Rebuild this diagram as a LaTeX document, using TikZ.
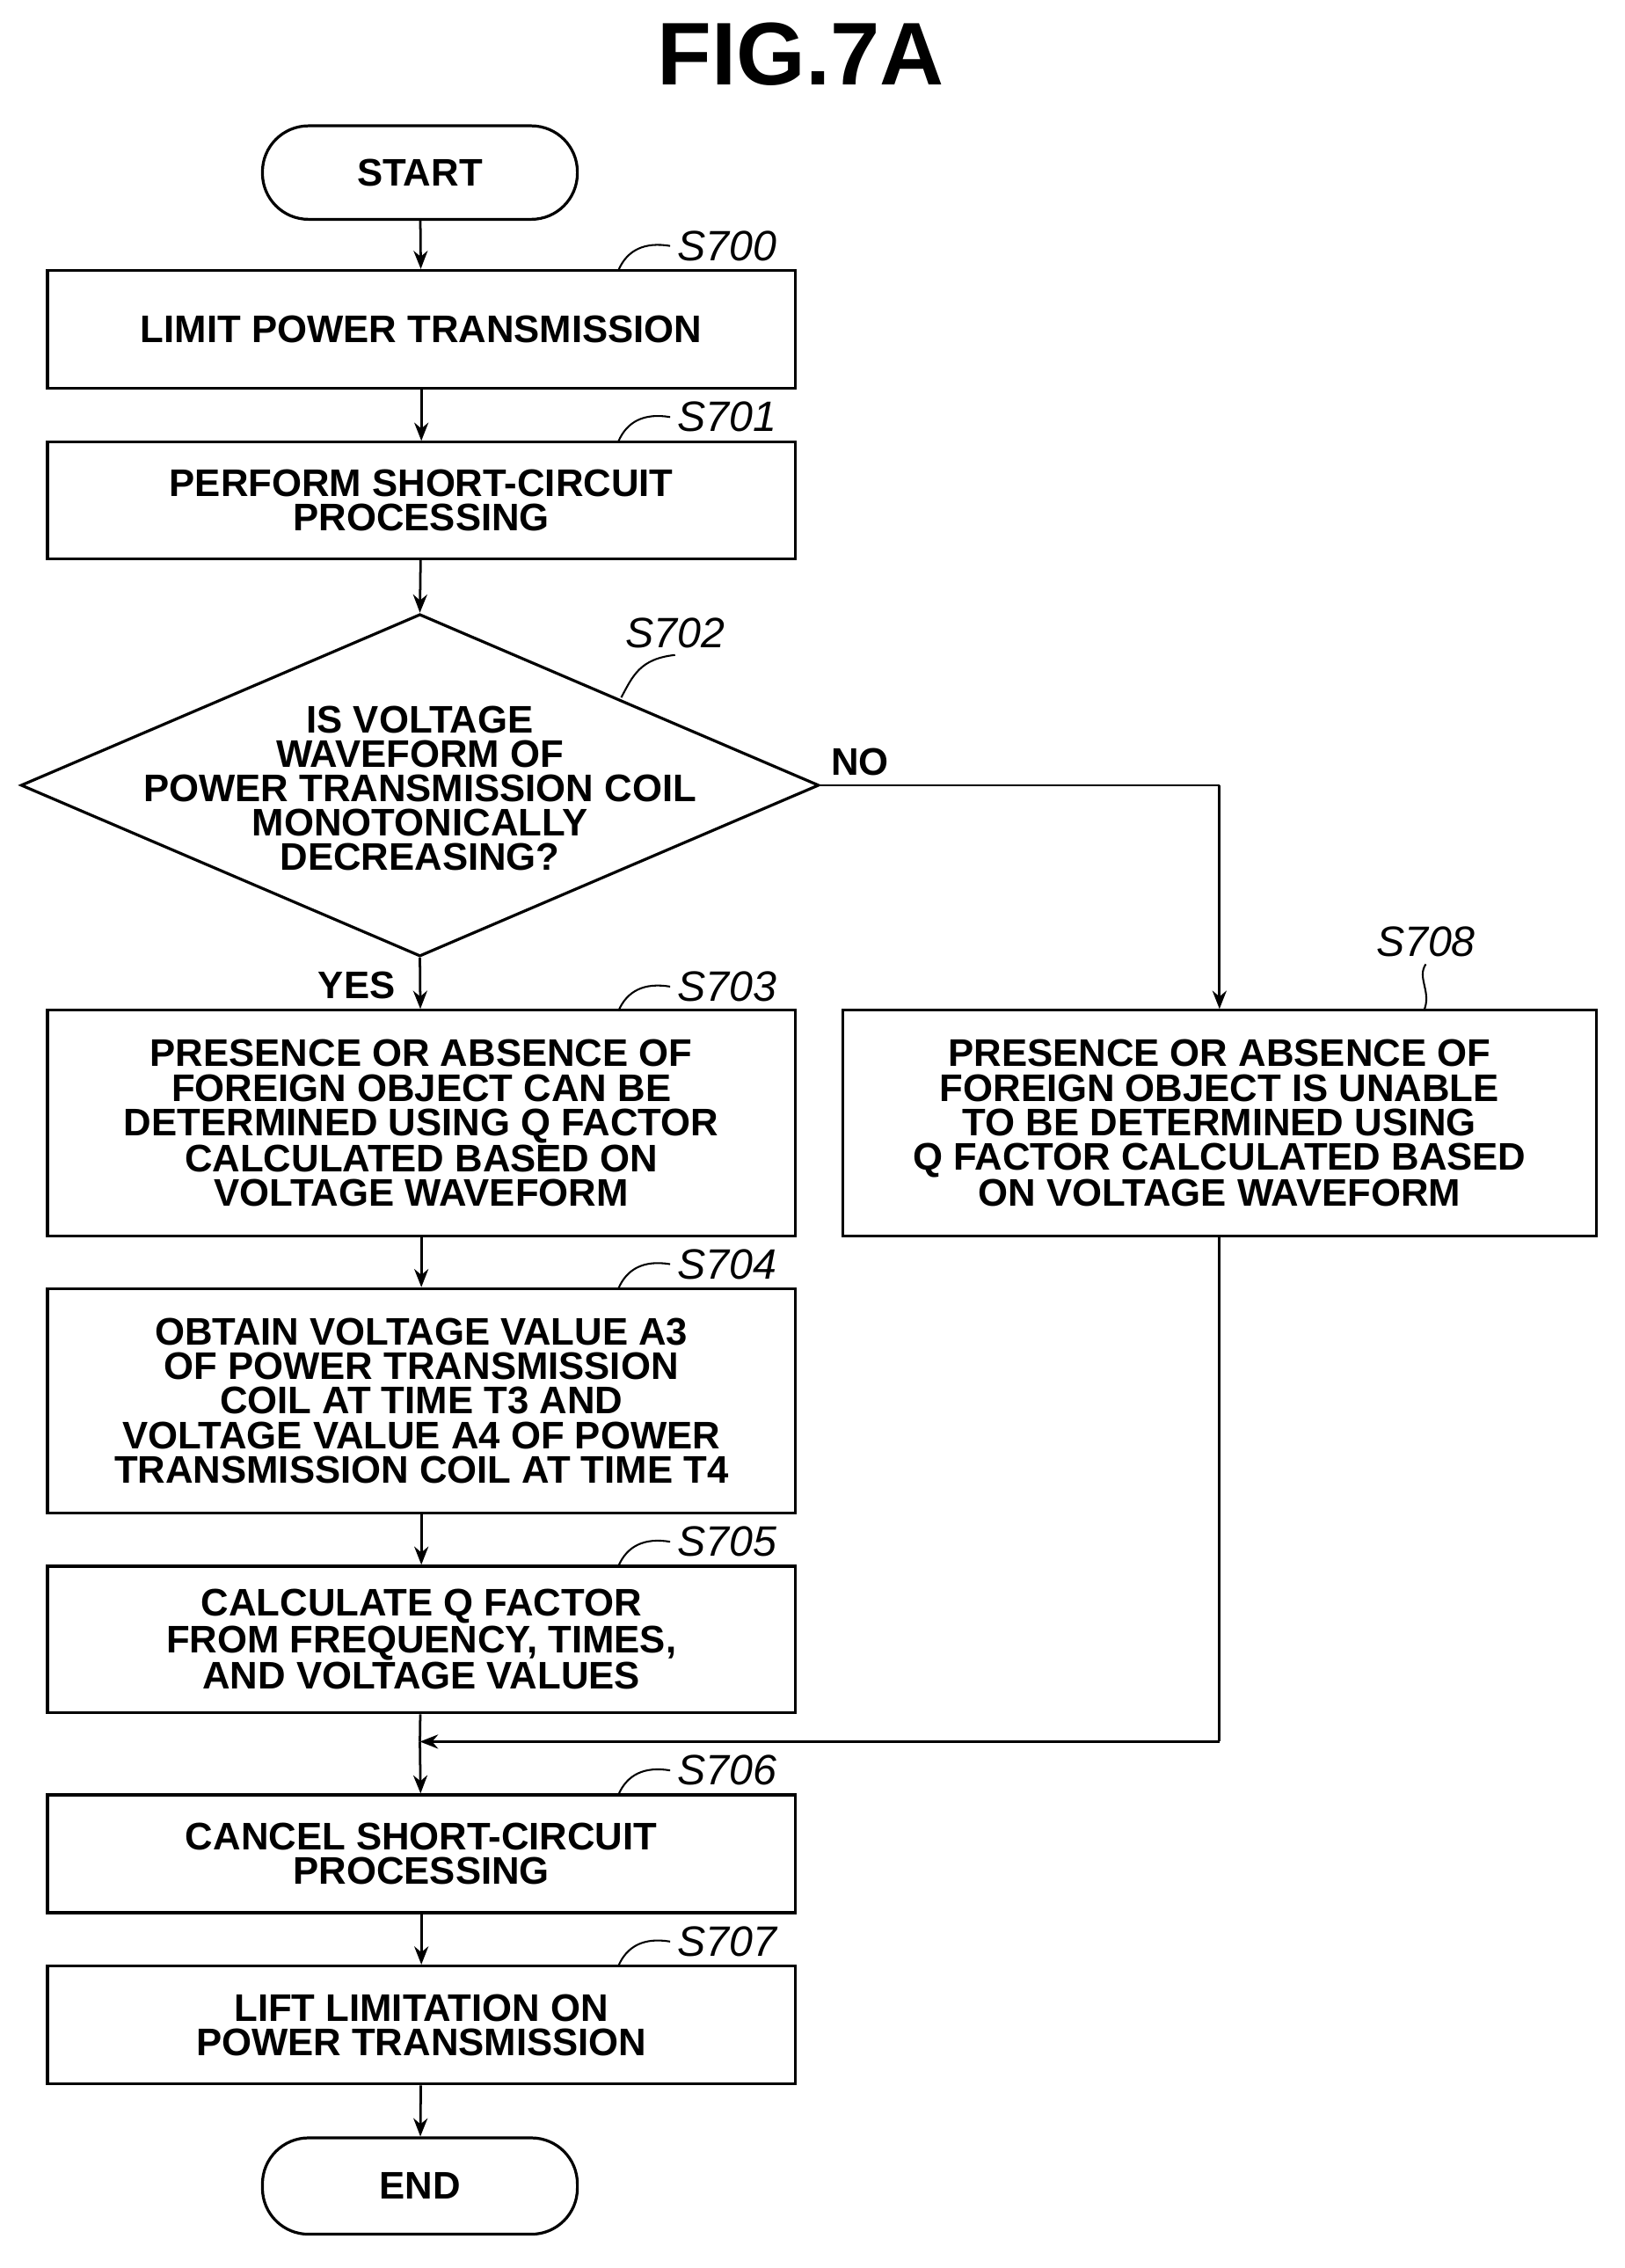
\documentclass[tikz,border=0pt]{standalone}
\usepackage{fontspec}
\setmainfont{Liberation Sans}
\usetikzlibrary{shapes.geometric,arrows.meta}
\begin{document}
\begin{tikzpicture}[x=0.025cm,y=-0.025cm,
  box/.style={draw,line width=1.4pt,minimum width=520*0.025cm,align=center,font=\fontsize{19}{17}\selectfont\bfseries,inner sep=0pt},
  term/.style={draw,line width=1.4pt,rounded corners=0.8cm,minimum width=219*0.025cm,font=\fontsize{19}{20}\selectfont\bfseries},
  lbl/.style={font=\fontsize{21}{22}\selectfont\itshape,anchor=west},
  ar/.style={line width=1.2pt,-{Stealth[length=9pt,width=7pt]}},
  ln/.style={line width=1.2pt}]
\useasboundingbox (0,0) rectangle (1130,1577);
\node[font=\fontsize{44}{44}\selectfont\bfseries] (title) at (557,38) {FIG.7A};
\node[term,minimum height=65*0.025cm] (start) at (292,120) {START};
\node[box,minimum height=82*0.025cm] (s700) at (293,229) {LIMIT POWER TRANSMISSION};
\node[box,minimum height=81*0.025cm] (s701) at (293,348) {PERFORM SHORT-CIRCUIT\\PROCESSING};
\node[draw,line width=1.4pt,diamond,aspect=2.33,minimum width=555*0.025cm,minimum height=238*0.025cm,inner sep=0pt] (s702) at (292,546) {};
\node[align=center,font=\fontsize{19}{17}\selectfont\bfseries] (s702t) at (292,548) {IS VOLTAGE\\WAVEFORM OF\\POWER TRANSMISSION COIL\\MONOTONICALLY\\DECREASING?};
\node[box,minimum height=157*0.025cm] (s703) at (293,781) {PRESENCE OR ABSENCE OF\\FOREIGN OBJECT CAN BE\\DETERMINED USING Q FACTOR\\CALCULATED BASED ON\\VOLTAGE WAVEFORM};
\node[box,minimum width=524*0.025cm,minimum height=157*0.025cm] (s708) at (848,781) {PRESENCE OR ABSENCE OF\\FOREIGN OBJECT IS UNABLE\\TO BE DETERMINED USING\\Q FACTOR CALCULATED BASED\\ON VOLTAGE WAVEFORM};
\node[box,minimum height=156*0.025cm] (s704) at (293,974) {OBTAIN VOLTAGE VALUE A3\\OF POWER TRANSMISSION\\COIL AT TIME T3 AND\\VOLTAGE VALUE A4 OF POWER\\TRANSMISSION COIL AT TIME T4};
\node[box,minimum height=102*0.025cm] (s705) at (293,1140) {CALCULATE Q FACTOR\\FROM FREQUENCY, TIMES,\\AND VOLTAGE VALUES};
\node[box,minimum height=82*0.025cm] (s706) at (293,1289) {CANCEL SHORT-CIRCUIT\\PROCESSING};
\node[box,minimum height=82*0.025cm] (s707) at (293,1408) {LIFT LIMITATION ON\\POWER TRANSMISSION};
\node[term,minimum height=67*0.025cm] (end) at (292,1520) {END};
\coordinate (m) at (292,1211);
\coordinate (nc) at (848,546);
\coordinate (mr) at (848,1211);
\draw[ar] (start) -- (s700);
\draw[ar] (s700) -- (s701);
\draw[ar] (s701) -- (s702.north);
\draw[ar] (s702.south) -- (s703);
\draw[ar] (s703) -- (s704);
\draw[ar] (s704) -- (s705);
\draw[ln] (s705) -- (m);
\draw[ar] (m) -- (s706);
\draw[ar] (s706) -- (s707);
\draw[ar] (s707) -- (end);
\draw[ln] (s702.east) -- (nc);
\draw[ar] (nc) -- (s708);
\draw[ln] (s708.south) -- (mr);
\draw[ar] (mr) -- (m);
\node[font=\fontsize{19}{20}\selectfont\bfseries] (no) at (598,530) {NO};
\node[font=\fontsize{19}{20}\selectfont\bfseries] (yes) at (248,685) {YES};
\foreach \n/\y in {s700/188,s701/307,s703/703,s704/896,s705/1089,s706/1248,s707/1367}{
  \node[lbl] (l\n) at (466,\y-17) {\MakeUppercase{\n}};
  \draw[ln,line width=0.9pt] (430,\y) .. controls (436,\y-14) and (448,\y-20) .. (l\n.west);
}
\node[lbl] (ls702) at (430,440) {S702};
\draw[ln,line width=0.9pt] (432,485) .. controls (440,470) and (445,458) .. (ls702.south);
\node[lbl] (ls708) at (952,655) {S708};
\draw[ln,line width=0.9pt] (990,703) .. controls (996,690) and (985,680) .. (ls708.south);
\end{tikzpicture}
\end{document}
